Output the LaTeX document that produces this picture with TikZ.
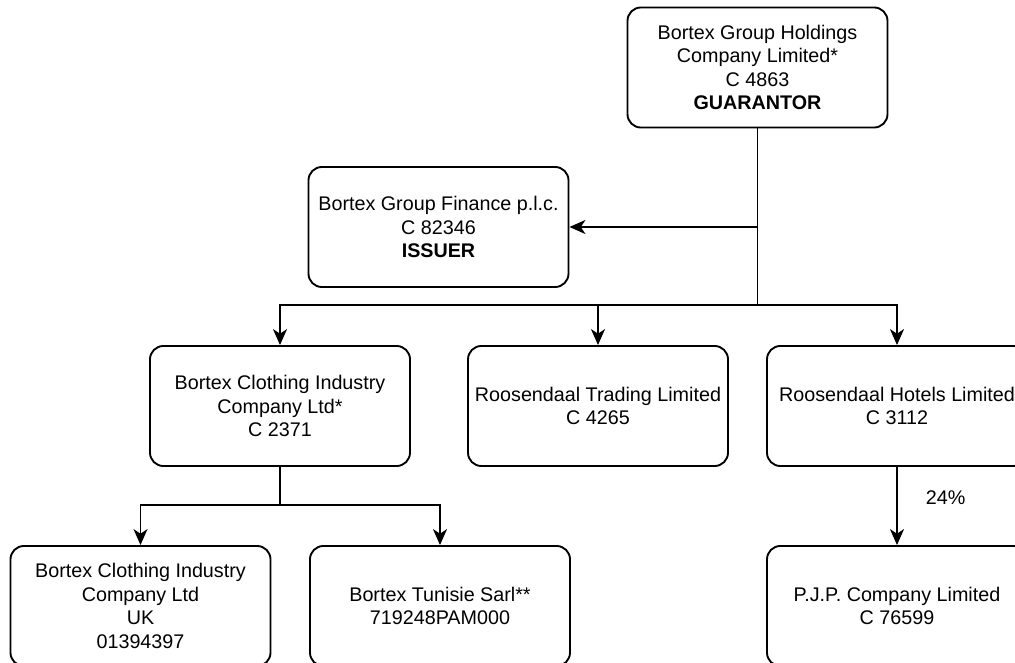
\documentclass[tikz,border=0pt]{standalone}
\usepackage{fontspec}
\setmainfont{Liberation Sans}
\usetikzlibrary{arrows.meta}
\begin{document}
\begin{tikzpicture}[x=0.75pt, y=-0.75pt,
    entity/.style={draw, line width=1.4pt, rounded corners=10pt, align=center,
      minimum width=195pt, minimum height=90pt, inner sep=0pt,
      font=\fontsize{14.8}{17.6}\selectfont},
    link/.style={line width=1.4pt, -{Stealth[length=12pt,width=10.5pt,inset=3.5pt]}}]
  \useasboundingbox (0,0) rectangle (1015,663);
  \clip (0,0) rectangle (1015,663);

  % Nodes
  \node[entity] (guar) at (757.5,67.5) {Bortex Group Holdings\\Company Limited*\\C 4863\\\textbf{GUARANTOR}};
  \node[entity] (issuer) at (438.5,227) {Bortex Group Finance p.l.c.\\C 82346\\\textbf{ISSUER}};
  \node[entity] (clothing) at (280,406) {Bortex Clothing Industry\\Company Ltd*\\C 2371};
  \node[entity] (trading) at (598,406) {Roosendaal Trading Limited\\C 4265};
  \node[entity] (hotels) at (897,406) {Roosendaal Hotels Limited\\C 3112};
  \node[entity] (clothinguk) at (140.5,606) {Bortex Clothing Industry\\Company Ltd\\UK\\01394397};
  \node[entity] (tunisie) at (440,606) {Bortex Tunisie Sarl**\\719248PAM000};
  \node[entity] (pjp) at (897,606) {P.J.P. Company Limited\\C 76599};

  \coordinate (bus) at (757.5,305);
  \coordinate (subbus) at (280,505);

  % Connections
  \draw[link] (guar.south |- issuer.east) -- (issuer.east);
  \draw[link] (guar.south) -- (bus) -| (clothing.north);
  \draw[link] (bus) -| (trading.north);
  \draw[link] (bus) -| (hotels.north);
  \draw[link] (clothing.south) -- (subbus) -| (clothinguk.north);
  \draw[link] (subbus) -| (tunisie.north);
  \draw[link] (hotels.south) -- node[pos=0.39, right=21pt, inner sep=0pt,
      font=\fontsize{14.8}{17.6}\selectfont] (share) {24\%} (pjp.north);
\end{tikzpicture}
\end{document}
